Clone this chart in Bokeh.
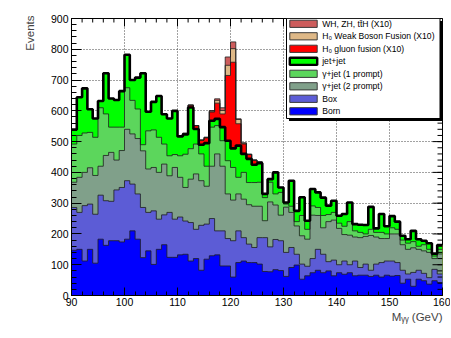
import numpy as np
from bokeh.plotting import figure
from bokeh.models import Range1d, FixedTicker, Title
from bokeh.embed import file_html
from bokeh.resources import INLINE
from bokeh.core.properties import value

# ---------------- data (events per 1 GeV bin, 90..160 GeV) ----------------
bin_low = list(range(90, 160))

born = [147, 150, 112, 150, 105, 183, 163, 178, 178, 174,
        183, 210, 183, 123, 145, 101, 150, 165, 124, 124,
        132, 134, 112, 120, 82, 118, 129, 132, 96, 96,
        60, 107, 112, 107, 107, 102, 78, 77, 84, 81,
        62, 91, 99, 53, 64, 74, 82, 74, 80, 64,
        74, 69, 74, 64, 66, 66, 62, 66, 60, 66,
        63, 65, 40, 53, 30, 53, 48, 37, 48, 42]

box = [139, 120, 180, 147, 159, 143, 145, 128, 165, 177,
       190, 152, 147, 163, 125, 174, 98, 97, 146, 124,
       123, 108, 125, 95, 146, 114, 121, 78, 114, 89,
       118, 103, 76, 60, 49, 86, 110, 81, 98, 97,
       78, 65, 35, 49, 31, 46, 68, 60, 30, 51,
       26, 43, 26, 48, 25, 36, 20, 36, 47, 46,
       49, 42, 42, 17, 45, 29, 24, 21, 37, 28]

gjet2 = [82, 114, 108, 118, 126, 94, 147, 159, 97, 120,
         167, 163, 180, 184, 141, 141, 152, 165, 119, 168,
         129, 109, 141, 180, 145, 123, 170, 250, 210, 145,
         132, 120, 125, 128, 134, 102, 55, 146, 112, 83,
         147, 114, 92, 92, 88, 141, 110, 86, 130, 130,
         118, 86, 96, 78, 97, 90, 113, 88, 78, 73,
         88, 93, 83, 80, 80, 68, 73, 82, 35, 65]

gjet1 = [124, 136, 128, 115, 124, 190, 135, 82, 107, 76,
         135, 109, 96, 20, 124, 122, 114, 65, 65, 42,
         70, 108, 99, 97, 87, 65, 127, 92, 83, 108,
         106, 54, 87, 72, 77, 78, 75, 64, 36, 74,
         10, 20, 14, 66, 32, 30, 26, 40, 23, 25,
         17, 27, 44, 20, 17, 8, 20, 15, 20, 15,
         20, 15, 15, 20, 20, 10, 20, 10, 8, 15]

jetjet = [47, 124, 145, 75, 61, 22, 132, 93, 88, 117,
          107, 66, 102, 232, 62, 91, 134, 97, 121, 142,
          63, 64, 134, 49, 30, 75, 21, 22, 44, 65,
          62, 103, 60, 77, 58, 62, 12, 10, 70, 16,
          5, 83, 35, 59, 28, 55, 49, 58, 29, 38,
          24, 40, 62, 22, 25, 29, 73, 13, 60, 25,
          38, 25, 14, 13, 35, 23, 13, 20, 8, 14]

h_gluon = [0, 0, 0, 0, 0, 0, 0, 0, 0, 0,
           0, 0, 0, 0, 0, 0, 0, 0, 0, 0,
           0, 4, 7, 11, 15, 17, 28, 51, 43, 212,
           280, 71, 32, 14, 15, 4, 2, 0, 0, 0,
           0, 0, 0, 0, 0, 0, 0, 0, 0, 0,
           0, 0, 0, 0, 0, 0, 0, 0, 0, 0,
           0, 0, 0, 0, 0, 0, 0, 0, 0, 0]

h_wbf = [0, 0, 0, 0, 0, 0, 0, 0, 0, 0,
         0, 0, 0, 0, 0, 0, 0, 0, 0, 0,
         0, 0, 1, 0, 0, 2, 3, 9, 11, 33,
         44, 14, 3, 1, 0, 0, 0, 0, 0, 0,
         0, 0, 0, 0, 0, 0, 0, 0, 0, 0,
         0, 0, 0, 0, 0, 0, 0, 0, 0, 0,
         0, 0, 0, 0, 0, 0, 0, 0, 0, 0]

h_vh = [0, 0, 0, 0, 0, 0, 0, 0, 0, 0,
        0, 0, 0, 0, 0, 0, 0, 0, 0, 0,
        0, 0, 0, 0, 0, 0, 2, 5, 9, 27,
        22, 2, 1, 0, 0, 0, 0, 0, 0, 0,
        0, 0, 0, 0, 0, 0, 0, 0, 0, 0,
        0, 0, 0, 0, 0, 0, 0, 0, 0, 0,
        0, 0, 0, 0, 0, 0, 0, 0, 0, 0]

series = [born, box, gjet2, gjet1, jetjet, h_gluon, h_wbf, h_vh]
labels = ["Born", "Box", "\u03b3+jet (2 prompt)", "\u03b3+jet (1 prompt)", "jet+jet",
          "H\u2080 gluon fusion (X10)", "H\u2080 Weak Boson Fusion (X10)",
          "WH, ZH, tt\u0304H (X10)"]
colors = ["#0000ff", "#5c5cd6", "#80a08a", "#5cd65c", "#00ff00",
          "#ff0000", "#deb887", "#cd5c5c"]
x_ticks = [90, 100, 110, 120, 130, 140, 150, 160]
y_ticks = [0, 100, 200, 300, 400, 500, 600, 700, 800, 900]
x_title = "M\u1d67\u1d67 (GeV)"
y_title = "Events"

# ---------------- figure ----------------
FONT = "Liberation Sans"
W, H = 450, 336
FL, FR, FT, FB = 71.0, 442.0, 18.0, 295.0   # frame edges in page pixels
p = figure(width=W, height=H, x_range=Range1d(90, 160), y_range=Range1d(0, 900),
           output_backend="svg", toolbar_location=None,
           min_border_left=int(FL), min_border_right=int(W - FR),
           min_border_top=int(FT), min_border_bottom=int(H - FB))
p.background_fill_color = "white"
p.border_fill_color = "white"
p.outline_line_color = "black"
p.outline_line_width = 1

def X(px):
    return 90 + (px - FL) * 70.0 / (FR - FL)
def Y(py):
    return (FB - py) * 900.0 / (FB - FT)
dx_px = 70.0 / (FR - FL)
dy_px = 900.0 / (FB - FT)

edges = bin_low + [160]
cum = np.cumsum(np.array(series, dtype=float), axis=0)

# fills, top of stack first (as a ROOT THStack)
for k in reversed(range(len(series))):
    top = list(cum[k]) + [cum[k][-1]]
    p.varea_step(x=edges, y1=[0] * len(edges), y2=top, step_mode="after",
                 fill_color=colors[k], fill_alpha=1.0)
# outlines
for k in range(len(series)):
    if k == 4:
        continue
    top = list(cum[k]) + [cum[k][-1]]
    p.step(x=edges, y=top, mode="after", line_color="#1e1e1e", line_width=1.0, line_alpha=0.8)
top = list(cum[4]) + [cum[4][-1]]
p.step(x=edges, y=top, mode="after", line_color="black", line_width=2.6)

# ---------------- axes ----------------
xminor = list(range(90, 161, 2))
yminor = list(range(0, 901, 20))
p.xaxis.ticker = FixedTicker(ticks=x_ticks, minor_ticks=xminor)
p.yaxis.ticker = FixedTicker(ticks=y_ticks, minor_ticks=yminor)
p.xaxis.major_tick_in = 8; p.xaxis.major_tick_out = 0
p.xaxis.minor_tick_in = 4; p.xaxis.minor_tick_out = 0
p.xaxis.major_label_standoff = 2
p.yaxis.major_tick_in = 10; p.yaxis.major_tick_out = 0
p.yaxis.minor_tick_in = 5; p.yaxis.minor_tick_out = 0
p.yaxis.major_label_standoff = 3
for ax in (p.xaxis, p.yaxis):
    ax.major_label_text_font = FONT
    ax.major_label_text_font_size = "10.5px"
    ax.major_label_text_color = "black"
    ax.axis_line_color = "black"
    ax.major_tick_line_color = "black"
    ax.minor_tick_line_color = "black"

# ticks on the top and right frame edges
p.segment(x0=[160] * len(y_ticks), x1=[160 - 10 * dx_px] * len(y_ticks), y0=y_ticks, y1=y_ticks,
          line_color="black", line_width=1)
p.segment(x0=[160] * len(yminor), x1=[160 - 5 * dx_px] * len(yminor), y0=yminor, y1=yminor,
          line_color="black", line_width=1)
p.segment(x0=x_ticks, x1=x_ticks, y0=[900] * len(x_ticks), y1=[900 - 8 * dy_px] * len(x_ticks),
          line_color="black", line_width=1)
p.segment(x0=xminor, x1=xminor, y0=[900] * len(xminor), y1=[900 - 4 * dy_px] * len(xminor),
          line_color="black", line_width=1)

for g in (p.xgrid, p.ygrid):
    g.grid_line_color = "#444444"
    g.grid_line_dash = "1 2"
    g.grid_line_width = 1
p.xgrid.ticker = FixedTicker(ticks=x_ticks)
p.ygrid.ticker = FixedTicker(ticks=y_ticks)

# axis titles (ROOT style: at the end of the axis)
p.add_layout(Title(text=y_title, align="right", text_font=FONT, text_font_size="11.5px",
                   text_font_style="normal", standoff=23, offset=-3), "left")
p.add_layout(Title(text=x_title, align="right", text_font=FONT, text_font_size="11.5px",
                   text_font_style="normal", standoff=0), "below")

# ---------------- legend ----------------
p.quad(left=[X(288.5)], right=[X(442)], top=[Y(20.5)], bottom=[Y(120.5)],
       fill_color="black", line_color=None)
p.quad(left=[X(286)], right=[X(439.5)], top=[Y(18)], bottom=[Y(118)],
       fill_color="white", line_color="black", line_width=1)
order = list(reversed(range(len(series))))
row_y = [Y(23.3 + 12.5 * i) for i in range(len(order))]
half = 3.6 * dy_px
for i, k in enumerate(order):
    lw = 2.4 if k == 4 else 1.0
    lc = "black" if k == 4 else "#3a3a3a"
    p.quad(left=[X(289.3)], right=[X(316.7)], top=[row_y[i] + half], bottom=[row_y[i] - half],
           fill_color=colors[k], line_color=lc, line_width=lw)
p.text(x=[X(321.7)] * len(order), y=row_y, text=[labels[k] for k in order],
       text_font=value(FONT), text_font_size="8.6px", text_baseline="middle",
       text_align="left", text_color="black")

open("out.html", "w").write(file_html(p, INLINE))
